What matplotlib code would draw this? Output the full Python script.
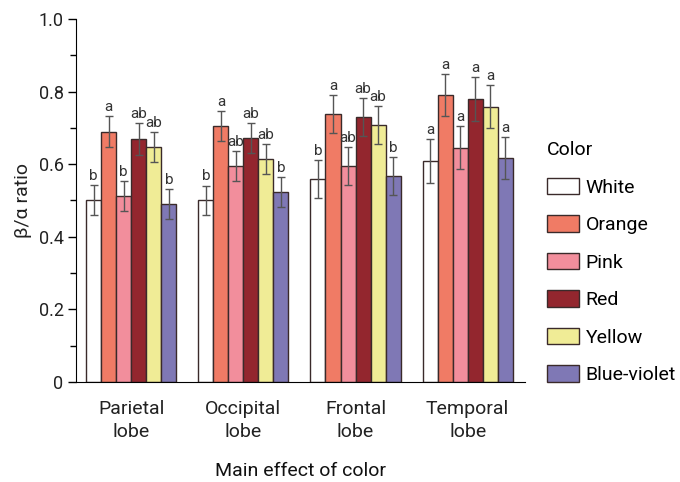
import numpy as np
import matplotlib
matplotlib.use('Agg')
import matplotlib.pyplot as plt
from matplotlib.ticker import MultipleLocator

plt.rcParams['font.family'] = ['Roboto', 'DejaVu Sans']

lobes = ['Parietal\nlobe', 'Occipital\nlobe', 'Frontal\nlobe', 'Temporal\nlobe']
colors_names = ['White', 'Orange', 'Pink', 'Red', 'Yellow', 'Blue-violet']
fills = ['#FFFFFF', '#F07B65', '#F28E9C', '#93262E', '#F0EC96', '#7F78B5']

# mean per lobe, one list per color
white = [0.501, 0.500, 0.559, 0.609]
orange = [0.689, 0.705, 0.738, 0.790]
pink = [0.512, 0.595, 0.595, 0.645]
red = [0.669, 0.672, 0.730, 0.780]
yellow = [0.647, 0.614, 0.708, 0.758]
blue = [0.490, 0.523, 0.567, 0.617]

err_white = [0.042, 0.041, 0.052, 0.060]
err_orange = [0.043, 0.041, 0.052, 0.058]
err_pink = [0.041, 0.041, 0.052, 0.059]
err_red = [0.044, 0.041, 0.052, 0.060]
err_yellow = [0.041, 0.042, 0.052, 0.059]
err_blue = [0.041, 0.041, 0.052, 0.058]

let_white = ['b', 'b', 'b', 'a']
let_orange = ['a', 'a', 'a', 'a']
let_pink = ['b', 'ab', 'ab', 'a']
let_red = ['ab', 'ab', 'ab', 'a']
let_yellow = ['ab', 'ab', 'ab', 'a']
let_blue = ['b', 'b', 'b', 'a']

means = [white, orange, pink, red, yellow, blue]
errs = [err_white, err_orange, err_pink, err_red, err_yellow, err_blue]
letters = [let_white, let_orange, let_pink, let_red, let_yellow, let_blue]

fig = plt.figure(figsize=(6.8, 4.82), dpi=100)
ax = fig.add_axes([0.1118, 0.2075, 0.772 - 0.1118, 0.9606 - 0.2075])

x = np.arange(len(lobes))
w = 0.134
edge = '#3a2a2a'
for i in range(6):
    xs = x + (i - 2.5) * w
    ax.bar(xs, means[i], w, color=fills[i], edgecolor=edge, linewidth=1.0,
           label=colors_names[i], zorder=2)
    ax.errorbar(xs, means[i], yerr=errs[i], fmt='none', ecolor='#555555',
                elinewidth=1.0, capsize=3, capthick=1.0, zorder=3)
    for xi, m, e, t in zip(xs, means[i], errs[i], letters[i]):
        ax.text(xi, m + e + 0.006, t, ha='center', va='bottom', fontsize=11,
                color='#333333', zorder=4)

ax.set_xlim(-0.493, 3.511)
ax.set_ylim(0, 1.0)
ax.set_xticks(x)
ax.set_xticklabels(lobes, fontsize=14, color='#222222', linespacing=1.35)
ax.tick_params(axis='x', length=0, pad=13)
ax.yaxis.set_major_locator(MultipleLocator(0.2))
ax.yaxis.set_minor_locator(MultipleLocator(0.1))
ax.set_yticks([0, 0.2, 0.4, 0.6, 0.8, 1.0])
ax.set_yticklabels(['0', '0.2', '0.4', '0.6', '0.8', '1.0'], fontsize=13, color='#222222')
ax.tick_params(axis='y', which='major', length=6, width=1, pad=3)
ax.tick_params(axis='y', which='minor', length=4, width=1)
ax.spines['top'].set_visible(False)
ax.spines['right'].set_visible(False)
ax.set_xlabel('Main effect of color', fontsize=14, labelpad=15, color='#111111')
ax.set_ylabel('β/α ratio', fontsize=14, color='#222222', labelpad=5)

leg = ax.legend(title='Color', loc='upper left', bbox_to_anchor=(1.01, 0.712),
                frameon=False, fontsize=14, title_fontsize=14,
                handlelength=1.65, handleheight=0.95, labelspacing=0.95,
                handletextpad=0.35)
leg._legend_box.align = 'left'

plt.savefig('out.png', dpi=100)
